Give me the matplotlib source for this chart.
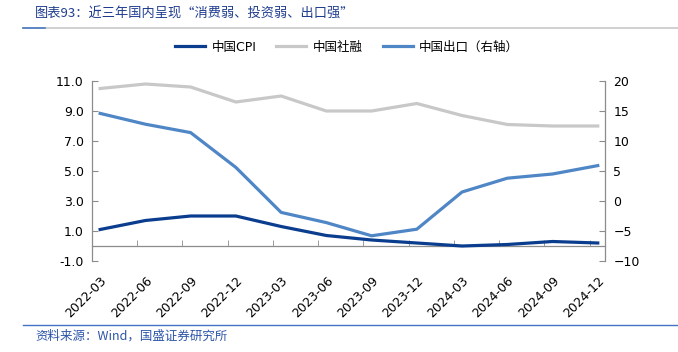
import matplotlib
matplotlib.use('Agg')
import matplotlib.pyplot as plt
from matplotlib.lines import Line2D
from matplotlib.ticker import FormatStrFormatter
import numpy as np

plt.rcParams['font.family'] = ['DejaVu Sans', 'Noto Sans CJK SC']

# data
quarters = ['2022-03', '2022-06', '2022-09', '2022-12', '2023-03', '2023-06',
            '2023-09', '2023-12', '2024-03', '2024-06', '2024-09', '2024-12']
cpi = [1.1, 1.7, 2.0, 2.0, 1.3, 0.7, 0.4, 0.2, 0.0, 0.1, 0.3, 0.2]
social_fin = [10.5, 10.8, 10.6, 9.6, 10.0, 9.0, 9.0, 9.5, 8.7, 8.1, 8.0, 8.0]
exports = [14.6, 12.8, 11.4, 5.6, -1.9, -3.6, -5.8, -4.7, 1.5, 3.8, 4.5, 5.9]

c_cpi = '#0b3d8f'
c_sf = '#c8c8c8'
c_exp = '#4f86c6'
c_axis = '#8c8c8c'

W, H = 678, 352
fig = plt.figure(figsize=(W / 100, H / 100), dpi=100)
ax = fig.add_axes([92 / W, 1 - 261 / H, 513 / W, 180 / H])
ax2 = ax.twinx()

x = np.arange(len(quarters))
ax.plot(x, cpi, color=c_cpi, lw=2.3, zorder=3)
ax.plot(x, social_fin, color=c_sf, lw=2.3, zorder=2)
ax2.plot(x, exports, color=c_exp, lw=2.3)

ax.set_xlim(-0.18, 11.16)
ax.set_ylim(-1, 11)
ax.set_yticks(np.arange(-1, 12, 2))
ax.yaxis.set_major_formatter(FormatStrFormatter('%.1f'))
ax2.set_ylim(-10, 20)
ax2.set_yticks(np.arange(-10, 21, 5))

# x axis sits at zero on the left scale
ax.spines['bottom'].set_position(('data', 0))
ax.spines['top'].set_visible(False)
ax2.spines['top'].set_visible(False)
ax2.spines['bottom'].set_visible(False)
for sp in ['left', 'bottom']:
    ax.spines[sp].set_color(c_axis)
    ax.spines[sp].set_linewidth(0.9)
ax.spines['right'].set_visible(False)
ax2.spines['left'].set_visible(False)
ax2.spines['right'].set_color(c_axis)
ax2.spines['right'].set_linewidth(0.9)

ax.set_xticks(x)
ax.set_xticklabels(quarters, rotation=45, ha='right', rotation_mode='anchor')
ax.set_xticks(x[1:] - 0.18, minor=True)
ax.tick_params(axis='x', which='major', length=0, pad=20, labelsize=9)
ax.tick_params(axis='x', which='minor', direction='in', length=4, color=c_axis)
ax.tick_params(axis='y', direction='in', length=4, color=c_axis, labelsize=9, pad=6)
ax2.tick_params(axis='y', direction='in', length=4, color=c_axis, labelsize=9, pad=6)

handles = [Line2D([], [], color=c_cpi, lw=2.3),
           Line2D([], [], color=c_sf, lw=2.3),
           Line2D([], [], color=c_exp, lw=2.3)]
labels = ['中国CPI', '中国社融', '中国出口（右轴）']
fig.legend(handles, labels, loc='center', bbox_to_anchor=(347 / W, 1 - 47 / H),
           ncol=3, frameon=False, handlelength=2.4,
           handletextpad=0.5, columnspacing=1.6,
           prop={'family': ['DejaVu Sans', 'Noto Sans CJK SC'], 'size': 9})

# header and footer
fig.text(35 / W, 1 - 14 / H, '图表93：近三年国内呈现“消费弱、投资弱、出口强”',
         color='#1f3d8f', fontsize=9.5, style='italic', va='center', ha='left',
         family=['Noto Sans CJK SC', 'DejaVu Sans'])
fig.add_artist(Line2D([23 / W, 1], [1 - 28 / H] * 2, color='#c8c8c8', lw=1.2))
fig.add_artist(Line2D([23 / W, 45 / W], [1 - 28 / H] * 2, color='#4a7ac0', lw=1.2))
fig.add_artist(Line2D([23 / W, 1], [1 - 325 / H] * 2, color='#4472c4', lw=1.0))
fig.text(35 / W, 1 - 336 / H, '资料来源：Wind，国盛证券研究所',
         color='#2c55a8', fontsize=9, style='italic', va='center', ha='left',
         family=['Noto Sans CJK SC', 'DejaVu Sans'])

fig.savefig('out.png', dpi=100)
plt.close(fig)
